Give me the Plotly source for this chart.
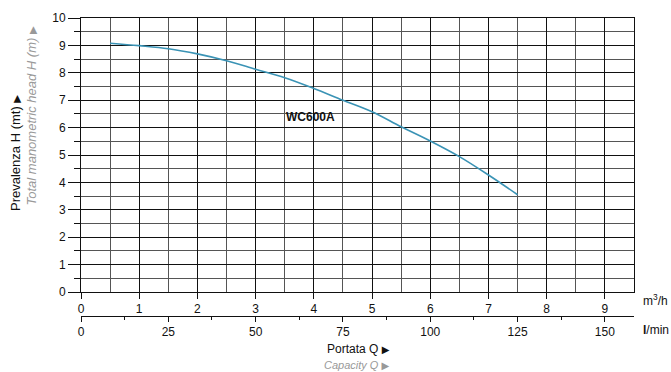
import plotly.graph_objects as go

# pump curve WC600A: flow (m3/h) vs head (m)
flow_m3h = [0.5, 1.0, 1.5, 2.0, 2.5, 3.0, 3.5, 4.0, 4.5, 5.0, 5.5, 6.0, 6.5, 7.0, 7.5]
head_m = [9.08, 8.99, 8.88, 8.69, 8.44, 8.13, 7.82, 7.43, 7.0, 6.58, 6.03, 5.51, 4.94, 4.27, 3.55]
model_name = "WC600A"

W, H = 671, 372
L, R, T, B = 81, 37, 18, 56
pw, ph = W - L - R, H - T - B


def px(x):
    return (x - L) / pw


def py(y):
    return (H - B - y) / ph


font = "Liberation Sans, Arial, sans-serif"
arrow = '<span style="font-family:DejaVu Sans;font-size:10px">▶</span>'

fig = go.Figure()

fig.add_trace(go.Scatter(x=flow_m3h, y=head_m, mode="lines",
                         line=dict(color="#3a93b5", width=1.6, shape="spline"),
                         showlegend=False, hoverinfo="skip"))
# empty trace on the l/min axis so it gets drawn
fig.add_trace(go.Scatter(x=[], y=[], xaxis="x2", yaxis="y", showlegend=False))

fig.add_annotation(x=3.94, y=6.39, text="<b>" + model_name + "</b>", showarrow=False,
                   font=dict(size=12, color="#111", family=font))

grid_major = "#111"
grid_minor = "#555"

fig.update_layout(
    width=W, height=H,
    margin=dict(l=L, r=R, t=T, b=B, autoexpand=False),
    plot_bgcolor="white", paper_bgcolor="white",
    font=dict(family=font, size=12, color="#111"),
    xaxis=dict(range=[0, 9.5], dtick=1, tick0=0, showgrid=True, gridcolor=grid_major, gridwidth=1,
               ticks="outside", ticklen=6, tickcolor="#111", showline=True, linecolor="#111",
               mirror=True, zeroline=False, automargin=False,
               minor=dict(dtick=0.5, showgrid=True, gridcolor=grid_minor, gridwidth=1, ticks=""),
               fixedrange=True),
    yaxis=dict(range=[0, 10], dtick=1, domain=[py(292), 1], showgrid=True, gridcolor=grid_major,
               ticks="outside", ticklen=12, tickcolor="#111", showline=True, linecolor="#111",
               mirror=True, zeroline=False, automargin=False,
               minor=dict(dtick=0.5, showgrid=True, gridcolor=grid_minor, ticks="outside",
                          ticklen=6, tickcolor="#111"),
               fixedrange=True),
    xaxis2=dict(range=[0, 9.5 * 1000 / 60], overlaying="x", anchor="free", position=0,
                side="bottom", dtick=25, tick0=0, showgrid=False, zeroline=False, automargin=False,
                ticks="outside", ticklen=5, tickcolor="#111", showline=True, linecolor="#111",
                minor=dict(dtick=12.5, ticks="outside", ticklen=3, tickcolor="#111"),
                fixedrange=True),
)

# axis titles
fig.add_annotation(xref="paper", yref="paper", x=px(15), y=py(213), text="Prevalenza H (mt) " + arrow,
                   textangle=-90, showarrow=False, xanchor="center", yanchor="bottom",
                   font=dict(size=13, color="#111", family=font))
fig.add_annotation(xref="paper", yref="paper", x=px(31), y=py(208),
                   text="<i>Total manometric head H (m)</i> " + arrow,
                   textangle=-90, showarrow=False, xanchor="center", yanchor="bottom",
                   font=dict(size=13, color="#999", family=font))
fig.add_annotation(xref="paper", yref="paper", x=px(358), y=py(349), text="Portata Q " + arrow,
                   showarrow=False, xanchor="center", yanchor="middle",
                   font=dict(size=12, color="#111", family=font))
fig.add_annotation(xref="paper", yref="paper", x=px(356), y=py(365),
                   text="<i>Capacity Q</i> " + arrow,
                   showarrow=False, xanchor="center", yanchor="middle",
                   font=dict(size=11, color="#999", family=font))
fig.add_annotation(xref="paper", yref="paper", x=px(641), y=py(300), text="m<sup>3</sup>/h",
                   showarrow=False, xanchor="left", yanchor="middle",
                   font=dict(size=12, color="#111", family=font))
fig.add_annotation(xref="paper", yref="paper", x=px(641), y=py(330), text="<b>l</b>/min",
                   showarrow=False, xanchor="left", yanchor="middle",
                   font=dict(size=12, color="#111", family=font))

# drop the browser's default body margin so the figure sits at the page corner
fig.write_html("out.html", config={"displayModeBar": False},
               post_script="document.body.style.margin='0';")
